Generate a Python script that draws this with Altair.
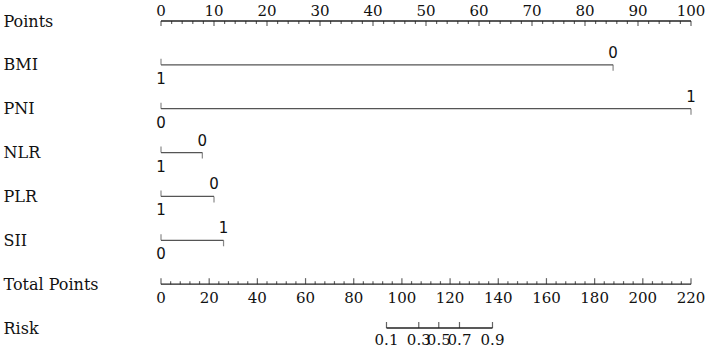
import altair as alt
import pandas as pd

# ---- data ----
rows = ["Points", "BMI", "PNI", "NLR", "PLR", "SII", "Total Points", "Risk"]

points_major = list(range(0, 101, 10))
points_minor = [v for v in range(0, 101, 2) if v % 10]

total_max = 220
total_major = list(range(0, 221, 20))
total_minor = [v for v in range(0, 221, 4) if v % 20]

variables = ["BMI", "PNI", "NLR", "PLR", "SII"]
low_level = ["1", "0", "1", "1", "0"]      # level scoring 0 points
high_level = ["0", "1", "0", "0", "1"]     # level scoring the max points
high_points = [85.3, 100, 7.8, 10.0, 11.8]

risk_values = [0.1, 0.3, 0.5, 0.7, 0.9]
risk_total_points = [93.6, 107.0, 115.3, 123.9, 137.6]

# ---- tables ----
k = 100.0 / total_max  # total points -> points scale

lines = [{"row": "Points", "x0": 0, "x1": 100, "kind": "axis"}]
for v, hp in zip(variables, high_points):
    lines.append({"row": v, "x0": 0, "x1": hp, "kind": "var"})
lines.append({"row": "Total Points", "x0": 0, "x1": total_max * k, "kind": "axis"})
lines.append({"row": "Risk", "x0": risk_total_points[0] * k,
              "x1": risk_total_points[-1] * k, "kind": "axis"})
lines_df = pd.DataFrame(lines)

pts_major_df = pd.DataFrame({"row": "Points", "x": points_major,
                             "label": [str(v) for v in points_major]})
pts_minor_df = pd.DataFrame({"row": "Points", "x": points_minor})
tot_major_df = pd.DataFrame({"row": "Total Points", "x": [t * k for t in total_major],
                             "label": [str(v) for v in total_major]})
tot_minor_df = pd.DataFrame({"row": "Total Points", "x": [t * k for t in total_minor]})
risk_df = pd.DataFrame({"row": "Risk", "x": [t * k for t in risk_total_points],
                        "label": [f"{r:.1f}" for r in risk_values]})
low_df = pd.DataFrame({"row": variables, "x": [0] * len(variables), "label": low_level})
high_df = pd.DataFrame({"row": variables, "x": high_points, "label": high_level})

# ---- encodings ----
X = alt.X("x:Q", scale=alt.Scale(domain=[0, 100], nice=False, zero=False), axis=None)
Y = alt.Y("row:N", sort=rows,
          scale=alt.Scale(type="point", domain=rows, padding=0),
          axis=alt.Axis(title=None, domain=False, ticks=False, grid=False,
                        labelAlign="left", labelPadding=158, labelBaseline="middle",
                        labelFont="DejaVu Serif", labelFontSize=16, labelColor="#111"))

AXC = "#222"
VARC = "#555"

line_layer = alt.Chart(lines_df).mark_rule(strokeWidth=1.3).encode(
    x=alt.X("x0:Q", scale=alt.Scale(domain=[0, 100], nice=False, zero=False), axis=None),
    x2="x1:Q",
    y=Y,
    color=alt.Color("kind:N", scale=alt.Scale(domain=["axis", "var"], range=[AXC, VARC]),
                    legend=None),
)


def ticks(df, length, direction, color=AXC):
    return alt.Chart(df).mark_tick(orient="vertical", size=length, thickness=1.2,
                                   yOffset=direction * length / 2, color=color).encode(x=X, y=Y)


def labels(df, dy, font="DejaVu Serif"):
    return alt.Chart(df).mark_text(dy=dy, font=font, fontSize=15, color="#111",
                                   baseline="middle", align="center").encode(
        x=X, y=Y, text="label:N")


var_low_ticks = alt.Chart(low_df).mark_tick(orient="vertical", size=6, thickness=1.2,
                                            yOffset=-3, color=VARC).encode(x=X, y=Y)
var_high_ticks = alt.Chart(high_df).mark_tick(orient="vertical", size=6, thickness=1.2,
                                              yOffset=3, color=VARC).encode(x=X, y=Y)

chart = alt.layer(
    line_layer,
    ticks(pts_major_df, 5, 1),
    ticks(pts_minor_df, 3, 1),
    ticks(tot_major_df, 6, -1),
    ticks(tot_minor_df, 3, -1),
    ticks(risk_df, 6, -1),
    var_low_ticks,
    var_high_ticks,
    labels(pts_major_df, -10),
    labels(tot_major_df, 14),
    labels(risk_df, 12),
    labels(low_df, 14, font="DejaVu Sans"),
    labels(high_df, -12, font="DejaVu Sans"),
).properties(
    width=530, height=307,
    padding={"left": 161, "top": 21, "right": 18, "bottom": 21},
    autosize="none",
    background="white",
).configure_view(stroke=None)

chart.save("out.html", embed_options={"renderer": "svg", "actions": False})
